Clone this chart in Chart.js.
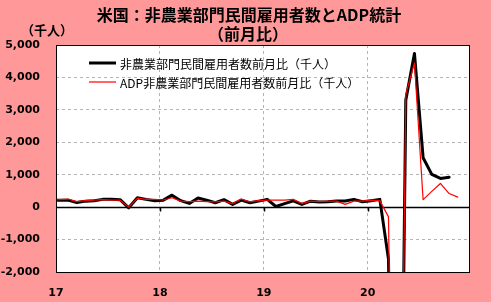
<!DOCTYPE html>
<html>
<head>
<meta charset="utf-8">
<script src="https://cdn.jsdelivr.net/npm/chart.js@4.4.0/dist/chart.umd.min.js"></script>
<style>
  body { margin: 0; background: #ff9999; }
  #caixa { width: 491px; height: 302px; position: relative; }
</style>
</head>
<body>
<div id="caixa"><canvas id="grafico"></canvas></div>
<script>
// meses (dez/2016 .. nov/2020)
const meses = [
  '2016-12',
  '2017-01', '2017-02', '2017-03', '2017-04', '2017-05', '2017-06', '2017-07', '2017-08', '2017-09', '2017-10', '2017-11', '2017-12',
  '2018-01', '2018-02', '2018-03', '2018-04', '2018-05', '2018-06', '2018-07', '2018-08', '2018-09', '2018-10', '2018-11', '2018-12',
  '2019-01', '2019-02', '2019-03', '2019-04', '2019-05', '2019-06', '2019-07', '2019-08', '2019-09', '2019-10', '2019-11', '2019-12',
  '2020-01', '2020-02', '2020-03', '2020-04', '2020-05', '2020-06', '2020-07', '2020-08', '2020-09', '2020-10', '2020-11'
];

// 非農業部門民間雇用者数 前月比（千人）
const privados = [
  210,
  215, 215, 140, 185, 200, 240, 240, 230, -20, 290, 240, 200,
  215, 370, 200, 115, 280, 215, 135, 230, 85, 215, 135, 185,
  240, 20, 110, 195, 85, 185, 160, 170, 190, 190, 240, 165,
  200, 240, -1600, -19800, 3300, 4740, 1525, 1010, 885, 925, null
];

// ADP 前月比（千人）
const adp = [
  220,
  230, 250, 170, 200, 215, 230, 215, 215, 0, 280, 240, 240,
  220, 290, 185, 170, 185, 170, 160, 185, 110, 250, 160, 200,
  215, 215, 215, 240, 110, 185, 170, 185, 185, 85, 185, 185,
  215, 200, -300, -19400, 3475, 4450, 230, 485, 730, 420, 310
];

const anos = ['17', '18', '19', '20'];
const titulo = ['米国：非農業部門民間雇用者数とADP統計', '（前月比）'];
const unidade = '（千人）';
const nomes = ['非農業部門民間雇用者数前月比（千人）', 'ADP非農業部門民間雇用者数前月比（千人）'];

function posicao(mes) {
  const [a, m] = mes.split('-').map(Number);
  return (a - 2017) * 12 + (m - 1) + 0.4;
}

function pontos(valores) {
  return meses.map((m, i) => ({ x: posicao(m), y: valores[i] }));
}

const fonteCJK = '"Noto Sans CJK JP", "Noto Sans", sans-serif';

const desenhos = {
  id: 'desenhos',
  beforeDraw(chart) {
    const { ctx, chartArea: a } = chart;
    ctx.save();
    ctx.fillStyle = '#ffffff';
    ctx.fillRect(a.left, a.top, a.right - a.left, a.bottom - a.top);
    ctx.restore();
  },
  beforeDatasetsDraw(chart) {
    const { ctx, chartArea: a, scales } = chart;
    const y0 = Math.round(scales.y.getPixelForValue(0)) + 0.5;
    ctx.save();
    ctx.strokeStyle = '#000';
    ctx.lineWidth = 1.5;
    ctx.beginPath();
    ctx.moveTo(a.left, y0);
    ctx.lineTo(a.right, y0);
    [12, 24, 36].forEach(v => {
      const x = Math.round(scales.x.getPixelForValue(v)) + 0.5;
      ctx.moveTo(x, y0);
      ctx.lineTo(x, y0 + 4);
    });
    ctx.stroke();
    ctx.restore();
  },
  afterDraw(chart) {
    const { ctx, chartArea: a } = chart;
    ctx.save();
    ctx.strokeStyle = '#000';
    ctx.lineWidth = 1;
    ctx.strokeRect(Math.round(a.left) + 0.5, Math.round(a.top) + 0.5,
      Math.round(a.right - a.left), Math.round(a.bottom - a.top));

    // título
    ctx.fillStyle = '#000';
    ctx.textAlign = 'center';
    ctx.textBaseline = 'middle';
    ctx.font = 'bold 16px ' + fonteCJK;
    ctx.fillText(titulo[0], 249, 15);
    ctx.fillText(titulo[1], 248, 34);
    ctx.font = 'bold 13px ' + fonteCJK;
    ctx.fillText(unidade, 47, 30);

    // legenda
    ctx.textAlign = 'left';
    ctx.font = '12px ' + fonteCJK;
    chart.data.datasets.forEach((ds, i) => {
      const y = 63 + i * 19;
      ctx.strokeStyle = ds.borderColor;
      ctx.lineWidth = ds.borderWidth;
      ctx.beginPath();
      ctx.moveTo(89, y);
      ctx.lineTo(116, y);
      ctx.stroke();
      ctx.fillStyle = '#000';
      ctx.fillText(ds.label, 120, y + 1);
    });
    ctx.restore();
  }
};

new Chart(document.getElementById('grafico'), {
  type: 'line',
  data: {
    datasets: [
      {
        label: nomes[0],
        data: pontos(privados),
        borderColor: '#000000',
        borderWidth: 3,
        order: 2
      },
      {
        label: nomes[1],
        data: pontos(adp),
        borderColor: '#ff0000',
        borderWidth: 1.2,
        order: 1
      }
    ]
  },
  options: {
    responsive: true,
    maintainAspectRatio: false,
    animation: false,
    layout: { padding: { top: 45, right: 22, left: 0, bottom: 0 } },
    elements: {
      point: { radius: 0 },
      line: { tension: 0, borderJoinStyle: 'round', borderCapStyle: 'round' }
    },
    plugins: {
      legend: { display: false },
      title: { display: false },
      tooltip: { enabled: false }
    },
    scales: {
      x: {
        type: 'linear',
        min: 0,
        max: 47.7,
        afterFit: s => { s.height = 30; },
        border: { display: false, dash: [3, 3] },
        grid: { color: '#b4b4b4', drawTicks: false },
        ticks: {
          stepSize: 12,
          includeBounds: false,
          autoSkip: false,
          maxRotation: 0,
          padding: 15,
          color: '#000',
          font: { family: 'DejaVu Sans', size: 11, weight: 'bold' },
          callback: v => anos[v / 12] || ''
        }
      },
      y: {
        min: -2000,
        max: 5000,
        afterFit: s => { s.width = 56; },
        border: { display: false, dash: [3, 3] },
        grid: {
          color: c => (c.tick && c.tick.value === 0) ? 'rgba(0,0,0,0)' : '#b4b4b4',
          drawTicks: false
        },
        ticks: {
          stepSize: 1000,
          padding: 16,
          color: '#000',
          font: { family: 'DejaVu Sans', size: 11, weight: 'bold' },
          callback: v => v.toLocaleString('en-US')
        }
      }
    }
  },
  plugins: [desenhos]
});
</script>
</body>
</html>
